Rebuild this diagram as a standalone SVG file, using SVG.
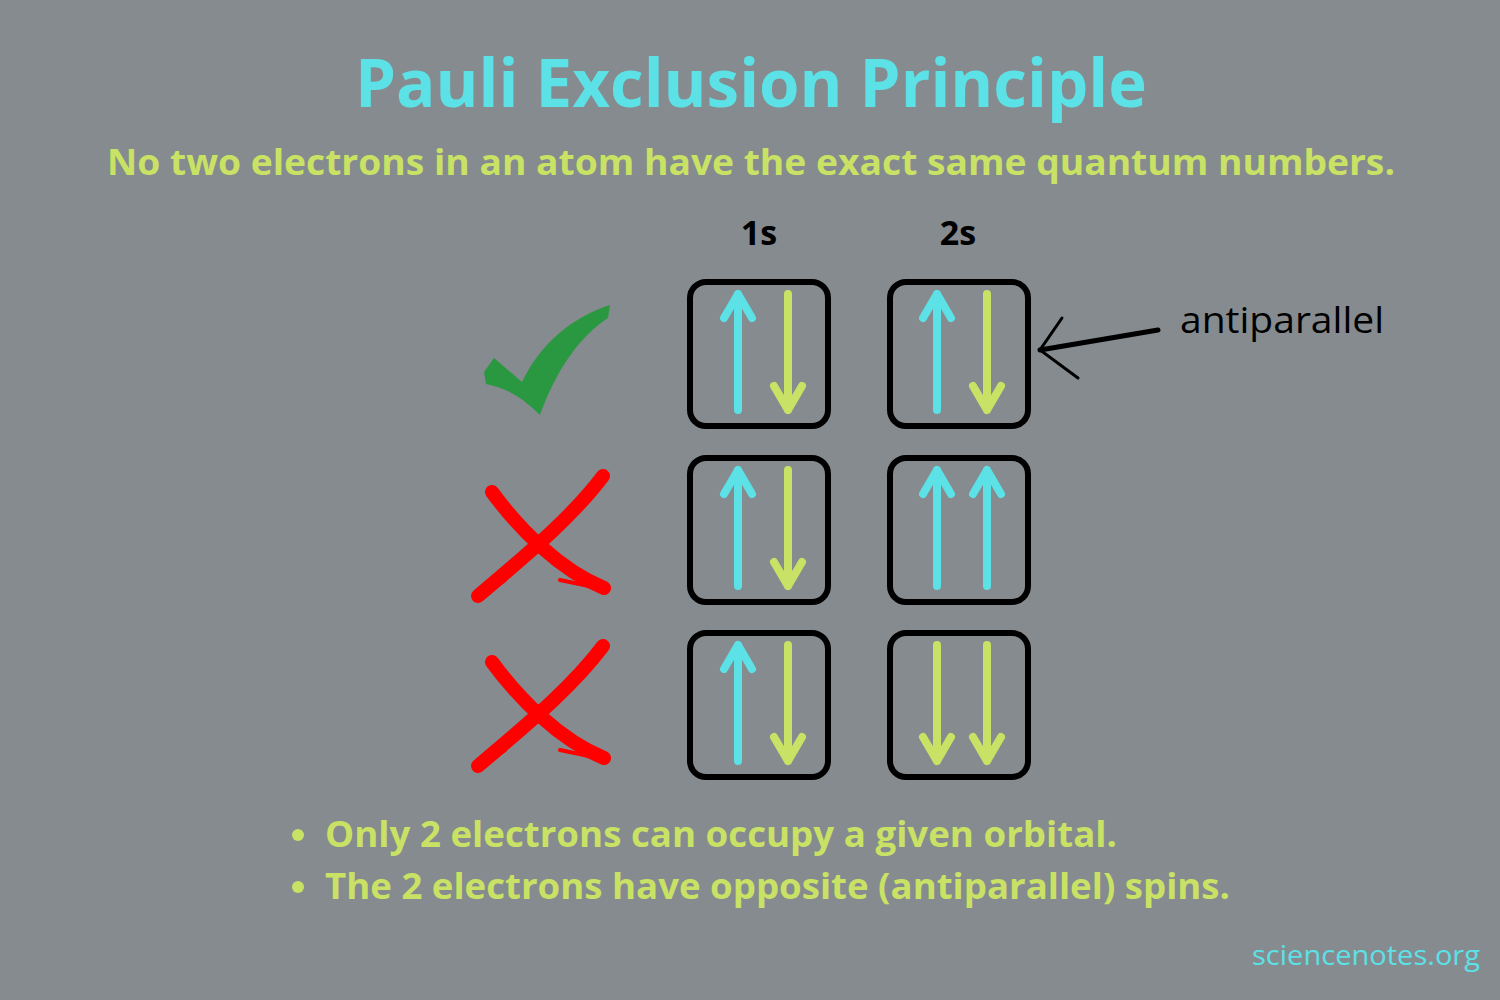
<svg xmlns="http://www.w3.org/2000/svg" width="1500" height="1000" viewBox="0 0 1500 1000">
<style>
.box{fill:none;stroke:#000;stroke-width:6}
.up{stroke:#5ce1e6;stroke-width:8;fill:none;stroke-linecap:round;stroke-linejoin:round}
.dn{stroke:#c9e265;stroke-width:8;fill:none;stroke-linecap:round;stroke-linejoin:round}
.t{font-family:"Open Sans","Noto Sans",sans-serif;font-weight:700}
</style>
<defs>
<g id="upA"><path class="up" d="M0 119V3M-14 27L0 3L14 27"/></g>
<g id="dnA"><path class="dn" d="M0 3V119M-14 95L0 119L14 95"/></g>
</defs>
<rect width="1500" height="1000" fill="#858b8e"/>
<text class="t" x="355" y="107" textLength="792" lengthAdjust="spacingAndGlyphs" font-size="66" fill="#5ce1e6">Pauli Exclusion Principle</text>
<text class="t" x="107" y="175" textLength="1288" lengthAdjust="spacingAndGlyphs" font-size="36" fill="#c9e265">No two electrons in an atom have the exact same quantum numbers.</text>
<text class="t" x="759" y="245" text-anchor="middle" font-size="34" fill="#000">1s</text>
<text class="t" x="958" y="245" text-anchor="middle" font-size="34" fill="#000">2s</text>
<g id="check"><path d="M484 372L494 358L522 382C540 345 570 318 610 305L608 318C580 336 556 370 540 415C520 395 505 388 486 384Z" fill="#2a9841"/></g>
<g id="x1" fill="none" stroke="#ff0000" stroke-linecap="round">
<path d="M492 492C520 530 560 570 604 588" stroke-width="14"/>
<path d="M603 476C570 520 520 560 478 596" stroke-width="14"/>
<path d="M475 600L505 580M560 580L608 590" stroke-width="4"/>
</g>
<g id="x2" fill="none" stroke="#ff0000" stroke-linecap="round" transform="translate(0,170)">
<path d="M492 492C520 530 560 570 604 588" stroke-width="14"/>
<path d="M603 476C570 520 520 560 478 596" stroke-width="14"/>
<path d="M475 600L505 580M560 580L608 590" stroke-width="4"/>
</g>
<g id="r1">
<rect class="box" x="690" y="282" width="138" height="144" rx="16"/>
<use href="#upA" x="738" y="291"/><use href="#dnA" x="788" y="291"/>
<rect class="box" x="890" y="282" width="138" height="144" rx="16"/>
<use href="#upA" x="937" y="291"/><use href="#dnA" x="987" y="291"/>
</g>
<g id="r2">
<rect class="box" x="690" y="458" width="138" height="144" rx="16"/>
<use href="#upA" x="738" y="467"/><use href="#dnA" x="788" y="467"/>
<rect class="box" x="890" y="458" width="138" height="144" rx="16"/>
<use href="#upA" x="937" y="467"/><use href="#upA" x="987" y="467"/>
</g>
<g id="r3">
<rect class="box" x="690" y="633" width="138" height="144" rx="16"/>
<use href="#upA" x="738" y="642"/><use href="#dnA" x="788" y="642"/>
<rect class="box" x="890" y="633" width="138" height="144" rx="16"/>
<use href="#dnA" x="937" y="642"/><use href="#dnA" x="987" y="642"/>
</g>
<g id="connectors" fill="none" stroke="#000" stroke-linecap="round">
<path d="M1158 330L1040 350" stroke-width="5"/>
<path d="M1062 318L1040 350L1078 378" stroke-width="3"/>
</g>
<text x="1180" y="333" textLength="204" lengthAdjust="spacingAndGlyphs" font-family="Open Sans,sans-serif" font-size="36" fill="#000">antiparallel</text>
<g class="t" font-size="36" fill="#c9e265">
<circle cx="298" cy="835" r="6" fill="#c9e265"/>
<text x="325" y="847" textLength="792" lengthAdjust="spacingAndGlyphs">Only 2 electrons can occupy a given orbital.</text>
<circle cx="298" cy="887" r="6" fill="#c9e265"/>
<text x="325" y="899" textLength="905" lengthAdjust="spacingAndGlyphs">The 2 electrons have opposite (antiparallel) spins.</text>
</g>
<text x="1252" y="965" textLength="228" lengthAdjust="spacingAndGlyphs" font-family="Open Sans,sans-serif" font-size="28" fill="#5ce1e6">sciencenotes.org</text>
</svg>
